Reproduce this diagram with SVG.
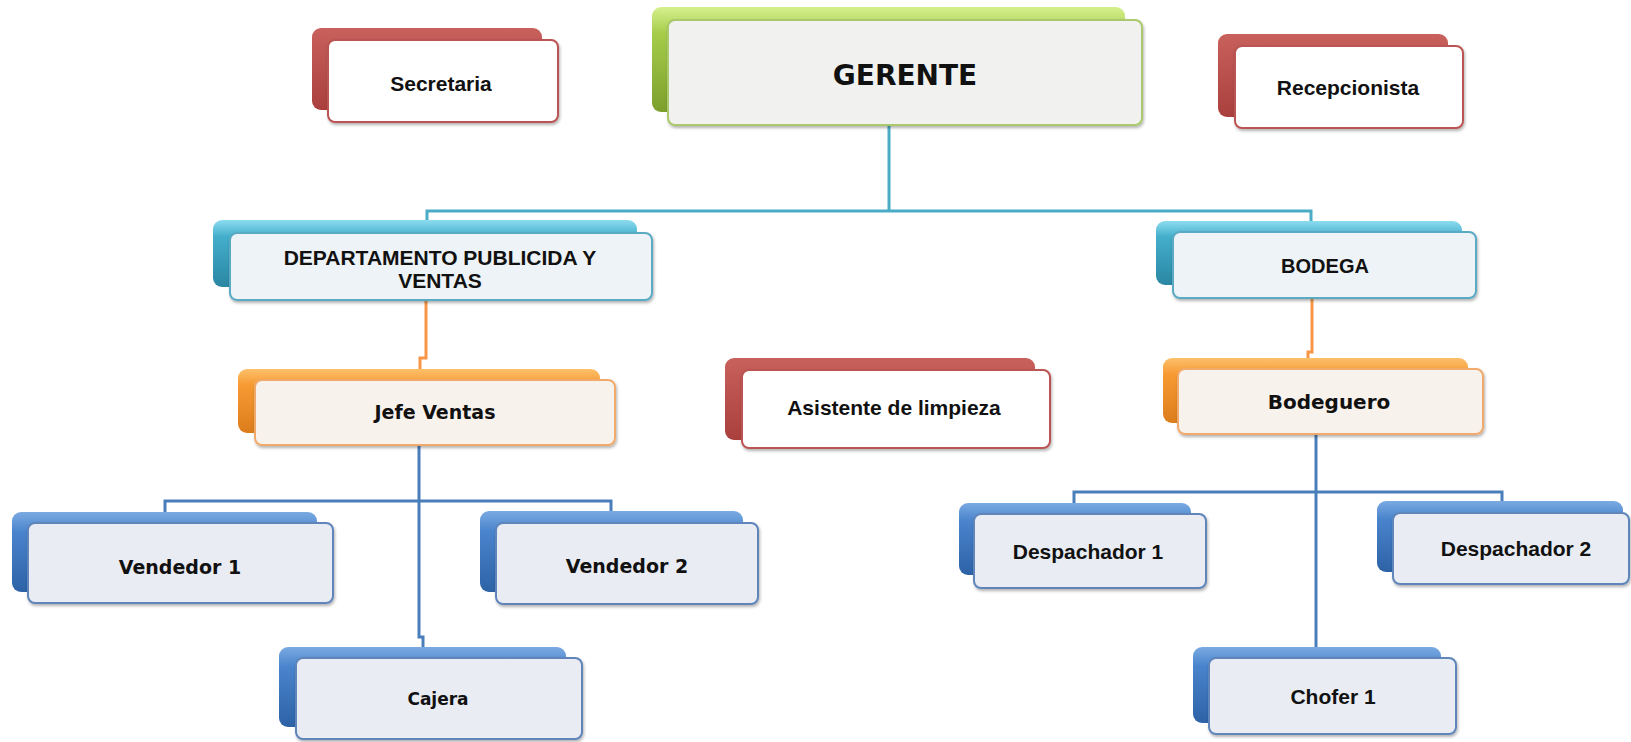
<svg xmlns="http://www.w3.org/2000/svg" width="1631" height="742" viewBox="0 0 1631 742">
<defs>
<linearGradient id="gGreen" x1="0" y1="0" x2="0" y2="1"><stop offset="0" stop-color="#d6f08e"/><stop offset="0.25" stop-color="#a6cc4a"/><stop offset="1" stop-color="#7c9f2c"/></linearGradient>
<linearGradient id="gRed" x1="0" y1="0" x2="0" y2="1"><stop offset="0" stop-color="#c8605c"/><stop offset="1" stop-color="#a9403d"/></linearGradient>
<linearGradient id="gTeal" x1="0" y1="0" x2="0" y2="1"><stop offset="0" stop-color="#8cdcef"/><stop offset="0.25" stop-color="#43aecb"/><stop offset="1" stop-color="#2a87a3"/></linearGradient>
<linearGradient id="gOrange" x1="0" y1="0" x2="0" y2="1"><stop offset="0" stop-color="#fcc06a"/><stop offset="0.25" stop-color="#f79a33"/><stop offset="1" stop-color="#dc7d1c"/></linearGradient>
<linearGradient id="gBlue" x1="0" y1="0" x2="0" y2="1"><stop offset="0" stop-color="#7aaae2"/><stop offset="0.25" stop-color="#4a84cc"/><stop offset="1" stop-color="#2d62a6"/></linearGradient>
<filter id="sh" x="-5%" y="-10%" width="110%" height="130%"><feDropShadow dx="1" dy="2" stdDeviation="1.5" flood-color="#000" flood-opacity="0.3"/></filter>
</defs>
<style>
.back{stroke:none}
.front{stroke-width:2;filter:url(#sh)}
.green .back{fill:url(#gGreen)}
.green .front{fill:#f1f2ef;stroke:#a9c96c}
.red .back{fill:url(#gRed)}
.red .front{fill:#ffffff;stroke:#bb5552}
.teal .back{fill:url(#gTeal)}
.teal .front{fill:#edf3f6;stroke:#5aaac4}
.orange .back{fill:url(#gOrange)}
.orange .front{fill:#f8f2ed;stroke:#f1aa6c}
.blue .back{fill:url(#gBlue)}
.blue .front{fill:#e9edf3;stroke:#5e85bb}
.c{font-family:"Liberation Sans",Arial,sans-serif;font-weight:bold;fill:#111;text-anchor:middle}
.v{font-family:"DejaVu Sans",Verdana,sans-serif;font-weight:bold;fill:#111;text-anchor:middle}
.ln{fill:none;stroke-width:3;stroke-linejoin:miter}
.lt{stroke:#4bacc6}
.lo{stroke:#f79646}
.lb{stroke:#4a7ebb}
</style>
<g id="connectors">
<path class="ln lt" d="M889,125 V211 M427,221 V211 H1311 V221"/>
<path class="ln lo" d="M426,300 V358 H420 V369"/>
<path class="ln lo" d="M1312,298 V352 H1308 V358"/>
<path class="ln lb" d="M419,445 V637 H423 V647 M165,512 V501 H611 V511"/>
<path class="ln lb" d="M1316,434 V647 M1074,503 V492 H1502 V501"/>
</g>
<g id="gerente" class="green">
<rect class="back" x="652" y="7" width="473" height="105" rx="9"/>
<rect class="front" x="668" y="20" width="474" height="105" rx="7"/>
<text class="v" x="905" y="85" font-size="28">GERENTE</text>
</g>
<g id="secretaria" class="red">
<rect class="back" x="312" y="28" width="230" height="82" rx="9"/>
<rect class="front" x="328" y="40" width="230" height="82" rx="7"/>
<text class="c" x="441" y="91" font-size="21">Secretaria</text>
</g>
<g id="recepcionista" class="red">
<rect class="back" x="1218" y="34" width="230" height="83" rx="9"/>
<rect class="front" x="1235" y="46" width="228" height="82" rx="7"/>
<text class="c" x="1348" y="95" font-size="21">Recepcionista</text>
</g>
<g id="departamento" class="teal">
<rect class="back" x="213" y="220" width="424" height="67" rx="9"/>
<rect class="front" x="230" y="233" width="422" height="67" rx="7"/>
<text class="c" x="440" y="265" font-size="21">DEPARTAMENTO PUBLICIDA Y</text>
<text class="c" x="440" y="288" font-size="21">VENTAS</text>
</g>
<g id="bodega" class="teal">
<rect class="back" x="1156" y="221" width="306" height="64" rx="9"/>
<rect class="front" x="1173" y="232" width="303" height="66" rx="7"/>
<text class="c" x="1325" y="273" font-size="20">BODEGA</text>
</g>
<g id="jefe-ventas" class="orange">
<rect class="back" x="238" y="369" width="362" height="64" rx="9"/>
<rect class="front" x="255" y="380" width="360" height="65" rx="7"/>
<text class="v" x="435" y="419" font-size="19">Jefe Ventas</text>
</g>
<g id="asistente" class="red">
<rect class="back" x="725" y="358" width="310" height="82" rx="9"/>
<rect class="front" x="742" y="370" width="308" height="78" rx="7"/>
<text class="c" x="894" y="415" font-size="21">Asistente de limpieza</text>
</g>
<g id="bodeguero" class="orange">
<rect class="back" x="1163" y="358" width="305" height="65" rx="9"/>
<rect class="front" x="1178" y="369" width="305" height="65" rx="7"/>
<text class="v" x="1329" y="409" font-size="20">Bodeguero</text>
</g>
<g id="vendedor1" class="blue">
<rect class="back" x="12" y="512" width="305" height="80" rx="9"/>
<rect class="front" x="28" y="523" width="305" height="80" rx="7"/>
<text class="v" x="180" y="574" font-size="19">Vendedor 1</text>
</g>
<g id="vendedor2" class="blue">
<rect class="back" x="480" y="511" width="263" height="81" rx="9"/>
<rect class="front" x="496" y="523" width="262" height="81" rx="7"/>
<text class="v" x="627" y="573" font-size="19">Vendedor 2</text>
</g>
<g id="cajera" class="blue">
<rect class="back" x="279" y="647" width="287" height="80" rx="9"/>
<rect class="front" x="296" y="658" width="286" height="81" rx="7"/>
<text class="v" x="438" y="705" font-size="17">Cajera</text>
</g>
<g id="despachador1" class="blue">
<rect class="back" x="959" y="503" width="232" height="72" rx="9"/>
<rect class="front" x="974" y="514" width="232" height="74" rx="7"/>
<text class="c" x="1088" y="559" font-size="21">Despachador 1</text>
</g>
<g id="despachador2" class="blue">
<rect class="back" x="1377" y="501" width="246" height="71" rx="9"/>
<rect class="front" x="1393" y="513" width="236" height="71" rx="7"/>
<text class="c" x="1516" y="556" font-size="21">Despachador 2</text>
</g>
<g id="chofer1" class="blue">
<rect class="back" x="1193" y="647" width="248" height="76" rx="9"/>
<rect class="front" x="1209" y="658" width="247" height="76" rx="7"/>
<text class="c" x="1333" y="704" font-size="21">Chofer 1</text>
</g>
</svg>
